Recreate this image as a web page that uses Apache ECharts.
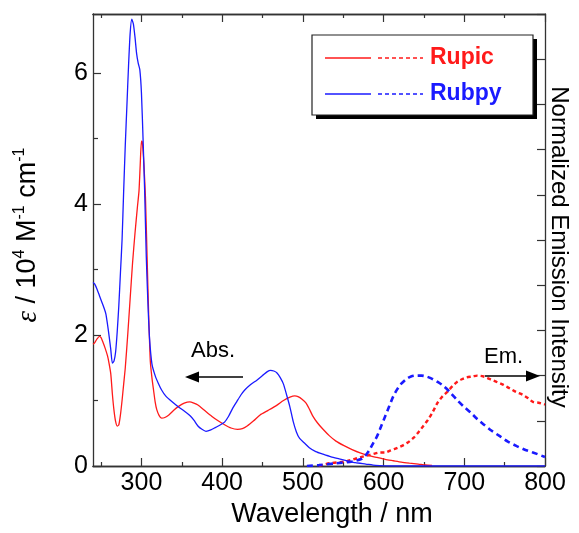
<!DOCTYPE html>
<html>
<head>
<meta charset="utf-8">
<script src="https://cdn.jsdelivr.net/npm/echarts@6/dist/echarts.min.js"></script>
<style>
  html, body { margin: 0; padding: 0; background: #fff; }
  #main { width: 579px; height: 533px; }
</style>
</head>
<body>
<div id="main"></div>
<script>
// wavelength (nm), epsilon (10^4 M-1 cm-1) -- absorption, left axis
var rubpyAbs = [
  [240, 2.80], [242, 2.78], [245, 2.70], [248, 2.60], [251, 2.50], [254, 2.40], [256, 2.32],
  [258, 2.16], [260, 1.98], [262, 1.78], [264, 1.57], [266, 1.60], [268, 1.74], [270, 2.05],
  [272, 2.45], [274, 2.95], [276, 3.45], [278, 4.20], [280, 4.90], [282, 5.50], [284, 6.10],
  [286, 6.60], [288, 6.82], [290, 6.75], [292, 6.55], [294, 6.30], [296, 6.15], [298, 6.05],
  [300, 5.70], [302, 5.00], [304, 4.20], [306, 3.20], [308, 2.50], [310, 1.96], [313, 1.56],
  [317, 1.38], [321, 1.26], [325, 1.16], [330, 1.07], [338, 0.98], [346, 0.90], [353, 0.84],
  [360, 0.77], [365, 0.70], [370, 0.61], [375, 0.56], [380, 0.53], [386, 0.55], [392, 0.59],
  [398, 0.63], [403, 0.67], [408, 0.76], [413, 0.88], [418, 0.98], [423, 1.08], [428, 1.16],
  [435, 1.24], [443, 1.31], [450, 1.38], [456, 1.44], [460, 1.46], [464, 1.45], [468, 1.42],
  [472, 1.35], [476, 1.25], [480, 1.08], [484, 0.90], [488, 0.68], [492, 0.52], [496, 0.42],
  [502, 0.35], [508, 0.28], [516, 0.22], [525, 0.18], [535, 0.14], [545, 0.11], [555, 0.08],
  [565, 0.05], [578, 0.03], [590, 0.01], [610, 0.00], [800, 0.00]
];
var rupicAbs = [
  [240, 1.86], [242, 1.88], [245, 1.94], [248, 1.98], [250, 1.96], [252, 1.90], [255, 1.80],
  [258, 1.68], [260, 1.56], [262, 1.41], [264, 1.10], [266, 0.85], [268, 0.68], [270, 0.61],
  [272, 0.63], [274, 0.78], [276, 1.00], [278, 1.25], [280, 1.50], [283, 2.00], [286, 2.55],
  [289, 3.10], [292, 3.55], [295, 3.95], [297, 4.20], [298.5, 4.60], [300, 4.96], [301, 4.95],
  [303, 4.62], [305, 4.10], [307, 3.20], [309, 2.30], [311, 1.60], [313, 1.35], [315, 1.16],
  [317, 0.98], [319, 0.86], [322, 0.77], [325, 0.73], [329, 0.74], [334, 0.78], [340, 0.85],
  [346, 0.91], [353, 0.96], [360, 0.98], [365, 0.96], [370, 0.93], [378, 0.85], [387, 0.76],
  [395, 0.69], [403, 0.63], [411, 0.58], [419, 0.56], [425, 0.57], [431, 0.61], [439, 0.69],
  [447, 0.78], [457, 0.85], [468, 0.93], [476, 1.00], [484, 1.05], [490, 1.07], [494, 1.06],
  [499, 1.02], [504, 0.96], [508, 0.87], [512, 0.77], [518, 0.66], [525, 0.56], [533, 0.46],
  [541, 0.38], [551, 0.31], [561, 0.25], [571, 0.20], [582, 0.16], [592, 0.13], [602, 0.10],
  [612, 0.08], [622, 0.06], [632, 0.045], [643, 0.03], [652, 0.015], [660, 0.01]
];
// wavelength (nm), normalized emission -- right axis
var rubpyEm = [
  [505, 0.00], [520, 0.01], [541, 0.03], [561, 0.05], [573, 0.08], [578, 0.12], [582, 0.17],
  [587, 0.25], [592, 0.33], [597, 0.44], [602, 0.55], [607, 0.66], [612, 0.77], [617, 0.85],
  [622, 0.91], [628, 0.96], [634, 0.99], [640, 1.00], [647, 1.00], [653, 0.99], [659, 0.97],
  [667, 0.93], [675, 0.88], [683, 0.81], [691, 0.73], [699, 0.66], [708, 0.59], [716, 0.52],
  [724, 0.46], [734, 0.39], [744, 0.33], [754, 0.27], [765, 0.22], [775, 0.18], [785, 0.15],
  [800, 0.10]
];
var rupicEm = [
  [520, 0.00], [533, 0.03], [553, 0.05], [565, 0.08], [573, 0.10], [582, 0.12], [590, 0.14],
  [596, 0.15], [602, 0.15], [608, 0.17], [614, 0.19], [622, 0.22], [630, 0.26], [637, 0.31],
  [643, 0.37], [649, 0.44], [655, 0.51], [661, 0.60], [667, 0.70], [673, 0.77], [679, 0.82],
  [685, 0.88], [691, 0.93], [697, 0.96], [703, 0.98], [710, 0.99], [716, 1.00], [724, 0.99],
  [732, 0.96], [740, 0.93], [748, 0.90], [756, 0.86], [764, 0.82], [772, 0.79], [779, 0.75],
  [785, 0.71], [792, 0.70], [800, 0.68]
];

var xMajor = [300, 400, 500, 600, 700, 800];
var xMinor = [250, 350, 450, 550, 650, 750];
var yMajor = [0, 2, 4, 6];
var yMinor = [1, 3, 5];

var RED = "#ff1a1a", BLUE = "#1a1aff", AXIS = "#333";
var FONT = "Liberation Sans";

var chart = echarts.init(document.getElementById("main"));

//同一边的主刻度/次刻度用两条重叠的轴来画
function xAx(pos, ticks, len, withLabel){
  return {
    type: "value", position: pos, min: 240, max: 800,
    axisLine: { show: true, onZero: false, lineStyle: { color: AXIS, width: 1.3 } },
    axisTick: { show: true, inside: true, length: len, customValues: ticks, lineStyle: { color: AXIS, width: 1.2 } },
    axisLabel: withLabel ? { show: true, customValues: ticks, margin: 5, color: "#000", fontSize: 25, fontFamily: FONT } : { show: false },
    splitLine: { show: false }
  };
}

var bottomX = xAx("bottom", xMajor, 8, true);
bottomX.name = "Wavelength / nm";
bottomX.nameLocation = "middle";
bottomX.nameGap = 35;
bottomX.nameTextStyle = { color: "#000", fontSize: 27, fontFamily: FONT, padding: [0, 0, 0, 26] };

var option = {
  animation: false,
  backgroundColor: "#fff",
  grid: { left: 93, right: 26, top: 14, bottom: 59 },
  xAxis: [
    bottomX,
    xAx("bottom", xMinor, 4, false),
    xAx("top", xMajor, 8, false),
    xAx("top", xMinor, 4, false)
  ],
  yAxis: [
    {
      type: "value", position: "left", min: 0, max: 6.9,
      axisLine: { show: true, lineStyle: { color: AXIS, width: 1.3 } },
      axisTick: { show: true, inside: true, length: 8, customValues: yMajor, lineStyle: { color: AXIS, width: 1.2 } },
      axisLabel: { customValues: yMajor, margin: 5, color: "#000", fontSize: 25, fontFamily: FONT },
      splitLine: { show: false },
      name: "{i|ε} / 10{s|4} M{s|-1} cm{s|-1}",
      nameLocation: "middle",
      nameGap: 49,
      nameTextStyle: {
        color: "#000", fontSize: 27, fontFamily: FONT, lineHeight: 32, padding: [0, 0, 0, 10],
        rich: {
          i: { fontSize: 29, fontStyle: "italic", fontFamily: "Liberation Serif", color: "#000" },
          s: { fontSize: 16, verticalAlign: "top", fontFamily: FONT, color: "#000" }
        }
      }
    },
    {
      type: "value", position: "right", min: 0, max: 5, interval: 0.5,
      axisLine: { show: true, lineStyle: { color: AXIS, width: 1.3 } },
      axisTick: { show: true, inside: true, length: 8, lineStyle: { color: AXIS, width: 1.2 } },
      axisLabel: { show: false },
      splitLine: { show: false },
      name: "Normalized Emission Intensity",
      nameLocation: "middle",
      nameRotate: -90,
      nameGap: 2,
      nameTextStyle: { color: "#000", fontSize: 24, fontFamily: FONT, padding: [0, 0, 0, 14] }
    },
    {
      type: "value", position: "left", min: 0, max: 6.9,
      axisLine: { show: false },
      axisTick: { show: true, inside: true, length: 5, customValues: yMinor, lineStyle: { color: AXIS, width: 1.2 } },
      axisLabel: { show: false },
      splitLine: { show: false }
    }
  ],
  series: [
    { name: "Rupic abs", type: "line", data: rupicAbs, xAxisIndex: 0, yAxisIndex: 0, showSymbol: false, smooth: 0.2,
      lineStyle: { color: RED, width: 1.3 }, z: 3 },
    { name: "Rubpy abs", type: "line", data: rubpyAbs, xAxisIndex: 0, yAxisIndex: 0, showSymbol: false, smooth: 0.2,
      lineStyle: { color: BLUE, width: 1.3 }, z: 4 },
    { name: "Rupic em", type: "line", data: rupicEm, xAxisIndex: 0, yAxisIndex: 1, showSymbol: false, smooth: 0.3,
      lineStyle: { color: RED, width: 2.4, type: [4, 3] }, z: 3 },
    { name: "Rubpy em", type: "line", data: rubpyEm, xAxisIndex: 0, yAxisIndex: 1, showSymbol: false, smooth: 0.3,
      lineStyle: { color: BLUE, width: 2.6, type: [6, 4] }, z: 4 }
  ],
  graphic: [
    //图例框（带阴影）
    { type: "rect", shape: { x: 316, y: 39, width: 221, height: 80 }, style: { fill: "#000" }, z: 10 },
    { type: "rect", shape: { x: 312, y: 35, width: 221, height: 80 }, style: { fill: "#fff", stroke: "#222", lineWidth: 1.2 }, z: 11 },
    { type: "line", shape: { x1: 325, y1: 58, x2: 371, y2: 58 }, style: { stroke: RED, lineWidth: 1.5 }, z: 12 },
    { type: "line", shape: { x1: 378, y1: 58, x2: 423, y2: 58 }, style: { stroke: RED, lineWidth: 1.5, lineDash: [4, 3] }, z: 12 },
    { type: "text", x: 430, y: 58, style: { text: "Rupic", fill: RED, fontSize: 23, fontWeight: "bold", fontFamily: FONT, verticalAlign: "middle" }, z: 12 },
    { type: "line", shape: { x1: 325, y1: 94, x2: 371, y2: 94 }, style: { stroke: BLUE, lineWidth: 1.5 }, z: 12 },
    { type: "line", shape: { x1: 378, y1: 94, x2: 423, y2: 94 }, style: { stroke: BLUE, lineWidth: 1.5, lineDash: [4, 3] }, z: 12 },
    { type: "text", x: 430, y: 94, style: { text: "Rubpy", fill: BLUE, fontSize: 23, fontWeight: "bold", fontFamily: FONT, verticalAlign: "middle" }, z: 12 },
    //Abs. 箭头
    { type: "text", x: 191, y: 351, style: { text: "Abs.", fill: "#000", fontSize: 22, fontFamily: FONT, verticalAlign: "middle" }, z: 12 },
    { type: "line", shape: { x1: 196, y1: 377, x2: 243, y2: 377 }, style: { stroke: "#000", lineWidth: 1.3 }, z: 12 },
    { type: "polygon", shape: { points: [[185, 377], [199, 371.5], [199, 382.5]] }, style: { fill: "#000" }, z: 12 },
    //Em. 箭头
    { type: "text", x: 484, y: 357, style: { text: "Em.", fill: "#000", fontSize: 22, fontFamily: FONT, verticalAlign: "middle" }, z: 12 },
    { type: "line", shape: { x1: 485, y1: 376, x2: 530, y2: 376 }, style: { stroke: "#000", lineWidth: 1.3 }, z: 12 },
    { type: "polygon", shape: { points: [[540, 376], [526, 370.5], [526, 381.5]] }, style: { fill: "#000" }, z: 12 }
  ]
};

chart.setOption(option);
</script>
</body>
</html>
